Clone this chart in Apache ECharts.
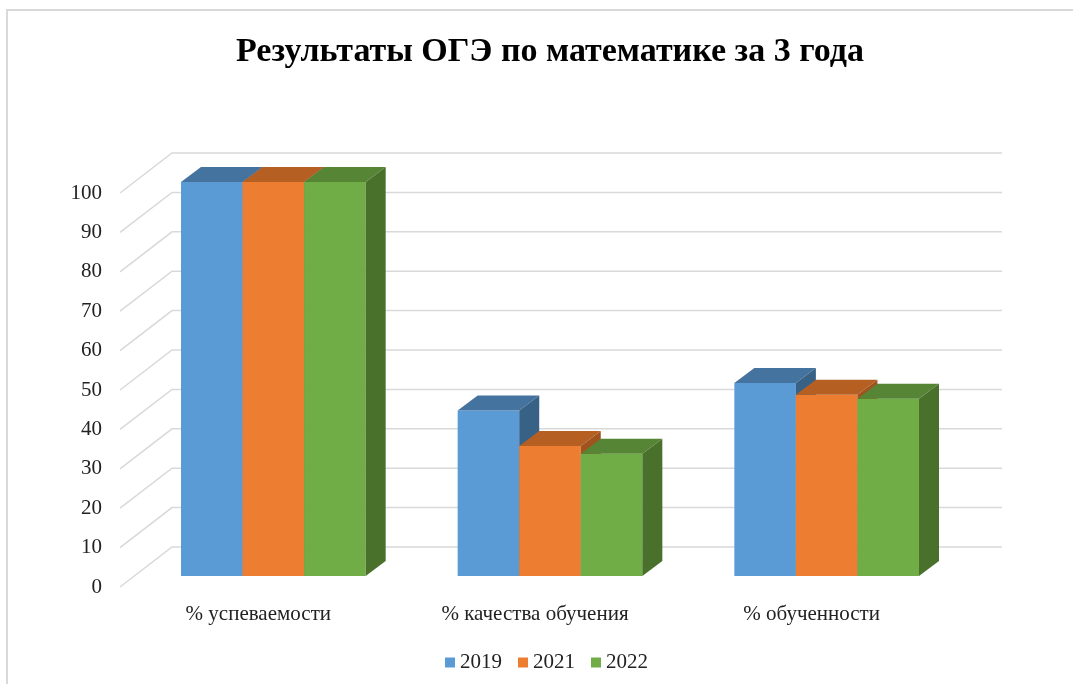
<!DOCTYPE html>
<html>
<head>
<meta charset="utf-8">
<script src="https://cdn.jsdelivr.net/npm/echarts@6/dist/echarts.min.js"></script>
<style>
html,body{margin:0;padding:0;background:#fff;}
#chart{width:1073px;height:684px;}
</style>
</head>
<body>
<div id="chart"></div>
<script>
var categories = ['% успеваемости', '% качества обучения', '% обученности'];
var years = ['2019', '2021', '2022'];
var values2019 = [100, 42, 49];
var values2021 = [100, 33, 46];
var values2022 = [100, 31, 45];
var yTicks = [0, 10, 20, 30, 40, 50, 60, 70, 80, 90, 100];

var colors = ['#5B9BD5', '#ED7D31', '#70AD47'];
var topColors = ['#44739F', '#B65F23', '#578536'];
var sideColors = ['#386186', '#A0531D', '#49712C'];

var FONT = '"Liberation Serif", "DejaVu Serif", serif';
// offset of the back wall from the front plane
var WALL_DX = 52, WALL_DY = -40;
// bar front plane and bar depth
var BAR_DX = 15, BAR_DY = -11;
var DEPTH_DX = 20, DEPTH_DY = -15;

var chart = echarts.init(document.getElementById('chart'));

function wallItem(params, api) {
	var cs = params.coordSys;
	var y = api.coord([0, api.value(0)])[1];
	return {
		type: 'polyline',
		shape: {points: [[cs.x, y], [cs.x + WALL_DX, y + WALL_DY], [cs.x + cs.width + WALL_DX, y + WALL_DY]]},
		style: {stroke: '#D9D9D9', lineWidth: 1.5, fill: null},
		silent: true
	};
}

function makeBarItem(idx) {
	return function(params, api) {
		var cat = api.value(0);
		var top = api.coord([cat, api.value(1)]);
		var bottom = api.coord([cat, 0]);
		var band = api.size([1, 0])[0];
		var w = band * 0.2225;
		var x0 = top[0] - w * 1.5 + idx * w + BAR_DX;
		var x1 = x0 + w;
		var yt = top[1] + BAR_DY;
		var yb = bottom[1] + BAR_DY;
		return {
			type: 'group',
			children: [
				{type: 'polygon', shape: {points: [[x0, yt], [x1, yt], [x1, yb], [x0, yb]]},
					style: {fill: colors[idx]}},
				{type: 'polygon', shape: {points: [[x0, yt], [x1, yt], [x1 + DEPTH_DX, yt + DEPTH_DY], [x0 + DEPTH_DX, yt + DEPTH_DY]]},
					style: {fill: topColors[idx]}},
				{type: 'polygon', shape: {points: [[x1, yt], [x1 + DEPTH_DX, yt + DEPTH_DY], [x1 + DEPTH_DX, yb + DEPTH_DY], [x1, yb]]},
					style: {fill: sideColors[idx]}}
			]
		};
	};
}

var seriesValues = [values2019, values2021, values2022];
var series = [{
	type: 'custom',
	name: 'wall',
	renderItem: wallItem,
	data: yTicks.map(function(t) { return [t]; }),
	encode: {y: 0},
	silent: true,
	z: 1
}];
for (var i = 0; i < years.length; i++) {
	series.push({
		type: 'custom',
		name: years[i],
		renderItem: makeBarItem(i),
		itemStyle: {color: colors[i]},
		data: seriesValues[i].map(function(v, k) { return [k, v]; }),
		encode: {x: 0, y: 1},
		z: 2 + i
	});
}

chart.setOption({
	backgroundColor: '#fff',
	animation: false,
	title: {
		text: 'Результаты ОГЭ по математике за 3 года',
		left: 545,
		textAlign: 'center',
		top: 30,
		textStyle: {fontFamily: FONT, fontSize: 34, fontWeight: 'bold', color: '#000'}
	},
	legend: {
		data: years,
		left: 440,
		top: 647,
		icon: 'rect',
		itemWidth: 10,
		itemHeight: 10,
		itemGap: 16,
		textStyle: {fontFamily: FONT, fontSize: 21, color: '#222'}
	},
	grid: {left: 120, right: 123, top: 193, bottom: 97},
	xAxis: {
		type: 'category',
		data: categories,
		axisLine: {show: false},
		axisTick: {show: false},
		axisLabel: {fontFamily: FONT, fontSize: 21, color: '#222', margin: 17}
	},
	yAxis: {
		type: 'value',
		min: 0,
		max: 100,
		interval: 10,
		axisLine: {show: false},
		axisTick: {show: false},
		splitLine: {show: false},
		axisLabel: {fontFamily: FONT, fontSize: 21, color: '#222', margin: 18}
	},
	graphic: [{
		type: 'polyline',
		shape: {points: [[7, 684], [7, 10], [1073, 10]]},
		style: {stroke: '#D9D9D9', lineWidth: 2, fill: null},
		silent: true
	}],
	series: series
});
</script>
</body>
</html>
